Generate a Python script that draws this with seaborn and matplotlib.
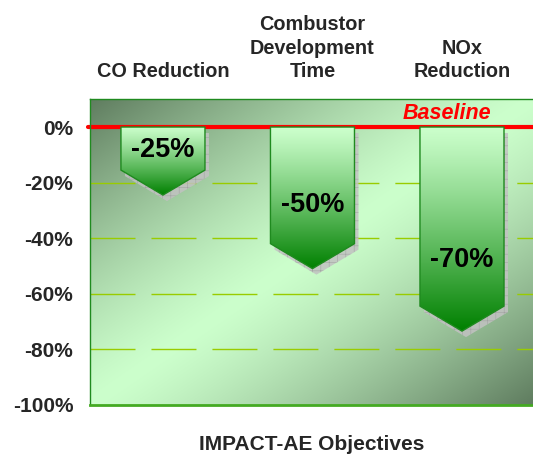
import numpy as np
import pandas as pd
import matplotlib
matplotlib.use("Agg")
import matplotlib.pyplot as plt
import seaborn as sns
from matplotlib.patches import Polygon
from matplotlib import transforms as mtransforms

# ---------------- data ----------------
categories = ["CO Reduction", "Combustor\nDevelopment\nTime", "NOx\nReduction"]
tip_values = [-24.5, -51.0, -73.5]          # depth reached by each arrow tip (%)
value_labels = ["-25%", "-50%", "-70%"]
ytick_values = [0, -20, -40, -60, -80, -100]
ytick_labels = ["0%", "-20%", "-40%", "-60%", "-80%", "-100%"]
grid_values = [-20, -40, -60, -80]
baseline_label = "Baseline"
x_title = "IMPACT-AE Objectives"

# ---------------- style ----------------
sns.set_theme(style="white")
plt.rcParams['font.family'] = ['Liberation Sans', 'DejaVu Sans']
plt.rcParams['hatch.linewidth'] = 0.4

fig = plt.figure(figsize=(5.33, 4.57), dpi=100)
ax = fig.add_axes([90 / 533, 1 - 404.7 / 457, 1 - 90 / 533, (404.7 - 98.7) / 457])

df = pd.DataFrame({"cat": categories, "val": tip_values})
sns.barplot(data=df, x="cat", y="val", ax=ax, width=0.562, errorbar=None,
            color="#008000")

XL = (-0.488, 2.475)
YL = (-100.0, 10.2)

# background diagonal gradient
nx, ny = 443, 306
u = np.linspace(0, 1, nx)[None, :]
v = np.linspace(0, 1, ny)[:, None]
t = (u + v) / 2
d = np.abs(t - 0.5) * 2
f = np.clip(d, 0, 1) ** 1.3
light = np.array([204, 255, 204]) / 255
dark = np.array([95, 124, 95]) / 255
bg = light + (dark - light) * f[..., None]
ax.imshow(bg, extent=(XL[0], XL[1], YL[0], YL[1]), aspect='auto', zorder=0,
          origin='upper', interpolation='bilinear')

# dashed gridlines
for g in grid_values:
    ax.axhline(g, color='#99cc00', lw=1.0, linestyle=(0, (32.4, 11.5)), zorder=1)

# baseline
ax.axhline(0, xmin=-0.005, xmax=1, color='#ff0000', lw=3, zorder=2, clip_on=False)
ax.text(1.9, 5.0, baseline_label, color='#ff0000', fontsize=15.5, fontweight='bold',
        fontstyle='italic', ha='center', va='center', zorder=6)

# arrows built from the seaborn bars
head = 9.0
shadow_tr = mtransforms.offset_copy(ax.transData, fig=fig, x=4, y=-6, units='dots')
n = 256
ramp = np.linspace(0, 1, n) ** 1.15
top_c = np.array([204, 255, 204]) / 255
bot_c = np.array([0, 128, 0]) / 255
grad = (top_c + (bot_c - top_c) * ramp[:, None])[:, None, :]
label_centres = [-8.3, -28.0, -48.0]

for i, p in enumerate(list(ax.patches)):
    x0 = p.get_x()
    w = p.get_width()
    y0 = p.get_y()
    tip = y0 + p.get_height()
    top = max(y0, tip)
    tip = min(y0, tip)
    p.set_visible(False)
    xc = x0 + w / 2
    rb = tip + head
    verts = [(x0, top), (x0 + w, top), (x0 + w, rb), (xc, tip), (x0, rb)]
    sh = Polygon(verts, closed=True, transform=shadow_tr, facecolor=(0.76, 0.76, 0.76),
                 edgecolor=(0.62, 0.62, 0.62), lw=0, hatch='++', alpha=0.85, zorder=3)
    ax.add_patch(sh)
    im = ax.imshow(grad, extent=(x0, x0 + w, tip, top), aspect='auto', zorder=4,
                   origin='upper', interpolation='bilinear')
    clip = Polygon(verts, closed=True, transform=ax.transData, facecolor='none')
    im.set_clip_path(clip)
    outline = Polygon(verts, closed=True, facecolor='none', edgecolor='#1f8a1f',
                      lw=1.0, zorder=5)
    ax.add_patch(outline)
    ax.text(xc, label_centres[i], value_labels[i], fontsize=19.5, fontweight='bold',
            ha='center', va='center', color='black', zorder=6)

ax.set_xlim(*XL)
ax.set_ylim(*YL)

# axes decorations
ax.set_yticks(ytick_values)
ax.set_yticklabels(ytick_labels)
ax.tick_params(axis='y', length=0, pad=12, labelsize=15)
for lbl in ax.get_yticklabels():
    lbl.set_fontweight('bold')

ax.set_xticks(range(len(categories)))
ax.set_xticklabels(categories)
ax.tick_params(axis='x', top=True, labeltop=True, bottom=False, labelbottom=False,
               length=0, pad=12.5, labelsize=14.3)
for lbl in ax.get_xticklabels():
    lbl.set_fontweight('bold')
    lbl.set_linespacing(1.32)

ax.xaxis.set_label_position('bottom')
ax.set_xlabel(x_title, fontsize=15, fontweight='bold', labelpad=22)
ax.set_ylabel("")

for s in ['left', 'top']:
    ax.spines[s].set_color('#1f8a1f')
    ax.spines[s].set_linewidth(1.0)
ax.spines['bottom'].set_color('#44aa22')
ax.spines['bottom'].set_linewidth(2.0)
ax.spines['right'].set_visible(False)
for s in ax.spines.values():
    s.set_zorder(7)

fig.savefig("out.png", dpi=100)
